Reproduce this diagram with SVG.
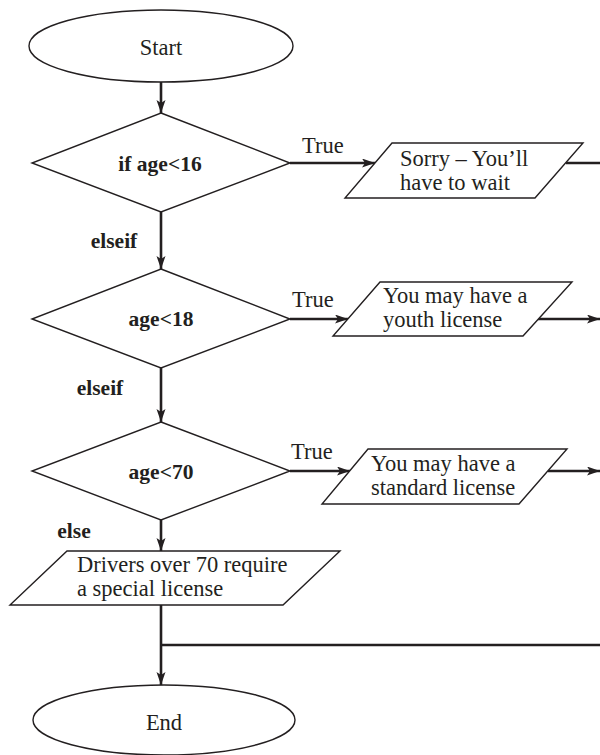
<svg xmlns="http://www.w3.org/2000/svg" width="600" height="755" viewBox="0 0 600 755">
<style>
.shape{fill:#fff;stroke:#231f20;stroke-width:1.4}
.conn{fill:none;stroke:#231f20;stroke-width:2.6}
text{font-family:"Liberation Serif","Times New Roman",serif;font-size:22.5px;fill:#231f20}
.b{font-weight:bold;font-size:21.5px}
.c{text-anchor:middle}
</style>
<defs>
<marker id="ah" markerUnits="userSpaceOnUse" markerWidth="14" markerHeight="10" refX="13" refY="4.5" orient="auto">
<path d="M0,0 L13,4.5 L0,9 L3,4.5 z" fill="#231f20"/>
</marker>
</defs>
<rect width="600" height="755" fill="#fff"/>
<g id="connectors">
<line class="conn" x1="161" y1="82" x2="161" y2="113" marker-end="url(#ah)"/>
<line class="conn" x1="161" y1="212" x2="161" y2="269" marker-end="url(#ah)"/>
<line class="conn" x1="161" y1="368" x2="161" y2="422" marker-end="url(#ah)"/>
<line class="conn" x1="161" y1="520" x2="161" y2="551" marker-end="url(#ah)"/>
<line class="conn" x1="161" y1="605" x2="161" y2="685" marker-end="url(#ah)"/>
<line class="conn" x1="161" y1="645" x2="600" y2="645"/>
<line class="conn" x1="290" y1="163" x2="375" y2="163" marker-end="url(#ah)"/>
<line class="conn" x1="566" y1="163" x2="600" y2="163"/>
<line class="conn" x1="290" y1="319" x2="348" y2="319" marker-end="url(#ah)"/>
<line class="conn" x1="538" y1="319" x2="600" y2="319" marker-end="url(#ah)"/>
<line class="conn" x1="290" y1="471" x2="350" y2="471" marker-end="url(#ah)"/>
<line class="conn" x1="548" y1="471" x2="600" y2="471" marker-end="url(#ah)"/>
<text x="302" y="153">True</text>
<text x="292" y="307">True</text>
<text x="291" y="459">True</text>
<text class="b c" x="114" y="248">elseif</text>
<text class="b c" x="100" y="395">elseif</text>
<text class="b c" x="74" y="538">else</text>
</g>
<g id="start">
<ellipse class="shape" cx="161" cy="46" rx="132" ry="36"/>
<text class="c" x="161" y="55">Start</text>
</g>
<g id="cond1">
<polygon class="shape" points="161,113 290,163 161,212 32,163"/>
<text class="b c" x="160" y="171">if age&lt;16</text>
</g>
<g id="out1">
<polygon class="shape" points="392,143 583,143 535,198 345,198"/>
<text x="400" y="166">Sorry – You’ll</text>
<text x="400" y="190">have to wait</text>
</g>
<g id="cond2">
<polygon class="shape" points="161,269 290,319 161,368 32,319"/>
<text class="b c" x="161" y="326">age&lt;18</text>
</g>
<g id="out2">
<polygon class="shape" points="380,282 572,282 523,336 333,336"/>
<text x="383" y="303">You may have a</text>
<text x="383" y="327">youth license</text>
</g>
<g id="cond3">
<polygon class="shape" points="161,422 290,471 161,520 32,471"/>
<text class="b c" x="161" y="479">age&lt;70</text>
</g>
<g id="out3">
<polygon class="shape" points="368,449 567,449 519,504 322,504"/>
<text x="371" y="470.5">You may have a</text>
<text x="371" y="494.5">standard license</text>
</g>
<g id="out4">
<polygon class="shape" points="67,551 340,551 283,605 10,605"/>
<text x="77" y="572">Drivers over 70 require</text>
<text x="77" y="596">a special license</text>
</g>
<g id="end">
<ellipse class="shape" cx="164" cy="720" rx="131" ry="35"/>
<text class="c" x="164" y="730">End</text>
</g>
</svg>
